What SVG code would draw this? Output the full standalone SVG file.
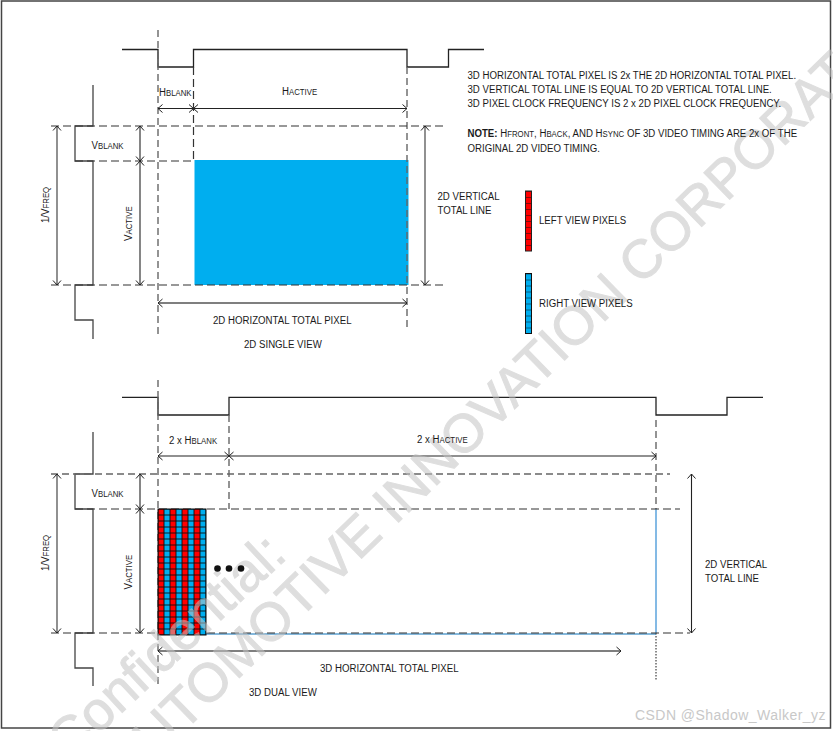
<svg xmlns="http://www.w3.org/2000/svg" width="833" height="731" viewBox="0 0 833 731">
<style>
.t{font-family:"Liberation Sans",Arial,sans-serif;font-size:11.5px;fill:#1a1a1a}
.s{font-size:9.3px}
.wm{font-family:"Liberation Sans",Arial,sans-serif;font-size:54px;fill:#c4c4c4;stroke:#c4c4c4;stroke-width:1px;opacity:.55}
.sig{fill:none;stroke:#222;stroke-width:1.3}
.gs{fill:none;stroke:#444;stroke-width:1.3}
.d{fill:none;stroke:#333;stroke-width:1.2;stroke-dasharray:8 4}
.dg{fill:none;stroke:#666;stroke-width:1.4;stroke-dasharray:7 4}
.a{fill:none;stroke:#222;stroke-width:1.1;marker-start:url(#ah);marker-end:url(#ah)}
.ag{fill:none;stroke:#555;stroke-width:1.3;marker-start:url(#ah);marker-end:url(#ah)}
</style>
<defs>
<marker id="ah" viewBox="-6 -5 12 10" refX="0" refY="0" markerWidth="12" markerHeight="10" markerUnits="userSpaceOnUse" orient="auto-start-reverse"><path d="M-4.500 -4L0 0L-4.500 4" fill="none" stroke="#222" stroke-width="1"/></marker>
<pattern id="gridR" width="6" height="6" patternUnits="userSpaceOnUse" x="525.500" y="191"><rect width="6" height="6" fill="#f00"/><path d="M0 0H6" stroke="#111" stroke-width="1"/></pattern>
<pattern id="gridB" width="6" height="6" patternUnits="userSpaceOnUse" x="525.500" y="273.500"><rect width="6" height="6" fill="#00aeef"/><path d="M0 0H6" stroke="#111" stroke-width="1"/></pattern>
<pattern id="grid3d" width="12" height="6" patternUnits="userSpaceOnUse" x="158" y="509"><rect width="12" height="6" fill="#00aeef"/><rect width="6" height="6" fill="#f00"/><path d="M0 0H12M0 6H12M0 0V6M6 0V6M12 0V6" stroke="#0a0a0a" stroke-width=".9" fill="none"/></pattern>
</defs>
<rect width="833" height="731" fill="#fff"/>
<rect id="frame" x="1.500" y="1" width="829" height="727" fill="none" stroke="#444" stroke-width="1.500"/>
<g id="view-2d-active"><rect x="194.500" y="160" width="214" height="125" fill="#00aeef"/></g>
<g id="connectors">
<path class="sig" d="M122 49.500H158V67H193.500V49.500H407V67H448.500V49.500H484"/>
<path class="gs" d="M93 85V126H75V161H93V285H75V320H93V339"/>
<path class="dg" d="M158 30V338"/>
<path class="d" d="M193.500 67V160"/>
<path class="dg" d="M407 67V331"/>
<path class="d" d="M51 126H443M75 161H193M51 285H443"/>
<path class="a" d="M158 108.500H193.500"/>
<path class="a" d="M193.500 108.500H407"/>
<path class="ag" d="M57 126V285"/>
<path class="a" d="M140 126V161"/>
<path class="a" d="M140 161V285"/>
<path class="ag" d="M425 126V285"/>
<path class="ag" d="M158 303H407"/>
<path class="sig" d="M122 397.300H158V415H229V397.300H656V415H727V397.300H763"/>
<path class="gs" d="M93 432V474H75V509H93V633H75V668H93V686"/>
<path class="dg" d="M158 380V686"/>
<path class="dg" d="M229 415V509"/>
<path class="dg" d="M656 420V509"/>
<path d="M656 509V633" fill="none" stroke="#5ba3dc" stroke-width="1.500"/>
<path d="M656 633V681" fill="none" stroke="#666" stroke-width="1.500" stroke-dasharray="1.500 1.500"/>
<path d="M205 634H656" fill="none" stroke="#0b72b9" stroke-width="1.200"/>
<path class="dg" d="M51 474H670"/>
<path class="d" d="M75 509H680M51 633H690"/>
<path class="a" d="M158 456H229"/>
<path class="a" d="M229 456H656"/>
<path class="ag" d="M57 474V633"/>
<path class="a" d="M140 474V509"/>
<path class="a" d="M140 509V633"/>
<path class="a" d="M691.500 474V633"/>
<path class="ag" d="M158 651H621"/>
</g>
<g id="view-3d-grid"><rect x="158" y="509" width="48" height="126" fill="url(#grid3d)" stroke="#0a0a0a" stroke-width="1"/></g>
<g id="watermark">
<text class="wm" transform="translate(69 762) rotate(-43)">Confidential:</text>
<text class="wm" transform="translate(129.500 785) rotate(-44.300)">AUTOMOTIVE INNOVATION CORPORATION</text>
</g>
<g id="view-3d-dots">
<circle cx="217.500" cy="568.500" r="3.300" fill="#111"/><circle cx="229" cy="568.500" r="3.300" fill="#111"/><circle cx="241" cy="568.500" r="3.300" fill="#111"/>
</g>
<g id="legend-left"><rect x="525.500" y="191" width="6" height="60" fill="url(#gridR)" stroke="#222"/><text class="t" transform="translate(539 224) scale(.84 1)">LEFT VIEW PIXELS</text></g>
<g id="legend-right"><rect x="525.500" y="273.500" width="6" height="60" fill="url(#gridB)" stroke="#111"/><text class="t" transform="translate(539 307) scale(.84 1)">RIGHT VIEW PIXELS</text></g>
<g id="labels">
<text class="t" transform="translate(159 96) scale(.84 1)">H<tspan class="s">BLANK</tspan></text>
<text class="t" transform="translate(282 95) scale(.84 1)">H<tspan class="s">ACTIVE</tspan></text>
<text class="t" transform="translate(91.500 149) scale(.84 1)">V<tspan class="s">BLANK</tspan></text>
<text class="t" transform="translate(132 241) rotate(-90) scale(.84 1)">V<tspan class="s">ACTIVE</tspan></text>
<text class="t" transform="translate(49 223) rotate(-90) scale(.84 1)">1/V<tspan class="s">FREQ</tspan></text>
<text class="t" transform="translate(437.500 200) scale(.84 1)">2D VERTICAL</text>
<text class="t" transform="translate(437.500 214) scale(.84 1)">TOTAL LINE</text>
<text class="t" transform="translate(213 324) scale(.84 1)">2D HORIZONTAL TOTAL PIXEL</text>
<text class="t" transform="translate(244 348) scale(.84 1)">2D SINGLE VIEW</text>
<text class="t" transform="translate(467.500 79) scale(.84 1)">3D HORIZONTAL TOTAL PIXEL IS 2x THE 2D HORIZONTAL TOTAL PIXEL.</text>
<text class="t" transform="translate(467.500 93) scale(.84 1)">3D VERTICAL TOTAL LINE IS EQUAL TO 2D VERTICAL TOTAL LINE.</text>
<text class="t" transform="translate(467.500 107) scale(.84 1)">3D PIXEL CLOCK FREQUENCY IS 2 x 2D PIXEL CLOCK FREQUENCY.</text>
<text class="t" transform="translate(467.500 137) scale(.84 1)"><tspan font-weight="bold">NOTE:</tspan> H<tspan class="s">FRONT</tspan>, H<tspan class="s">BACK</tspan>, AND H<tspan class="s">SYNC</tspan> OF 3D VIDEO TIMING ARE 2x OF THE</text>
<text class="t" transform="translate(467.500 152) scale(.84 1)">ORIGINAL 2D VIDEO TIMING.</text>
<text class="t" transform="translate(169 444) scale(.84 1)">2 x H<tspan class="s">BLANK</tspan></text>
<text class="t" transform="translate(417 443) scale(.84 1)">2 x H<tspan class="s">ACTIVE</tspan></text>
<text class="t" transform="translate(91.500 497) scale(.84 1)">V<tspan class="s">BLANK</tspan></text>
<text class="t" transform="translate(132 589.500) rotate(-90) scale(.84 1)">V<tspan class="s">ACTIVE</tspan></text>
<text class="t" transform="translate(49 571) rotate(-90) scale(.84 1)">1/V<tspan class="s">FREQ</tspan></text>
<text class="t" transform="translate(705 568) scale(.84 1)">2D VERTICAL</text>
<text class="t" transform="translate(705 582) scale(.84 1)">TOTAL LINE</text>
<text class="t" transform="translate(320 672) scale(.84 1)">3D HORIZONTAL TOTAL PIXEL</text>
<text class="t" transform="translate(249 696) scale(.84 1)">3D DUAL VIEW</text>
</g>
<text id="csdn" x="635" y="720" style="font-family:'Liberation Sans',sans-serif;font-size:14px;letter-spacing:.45px;fill:#c8c8c8">CSDN @Shadow_Walker_yz</text>
</svg>
